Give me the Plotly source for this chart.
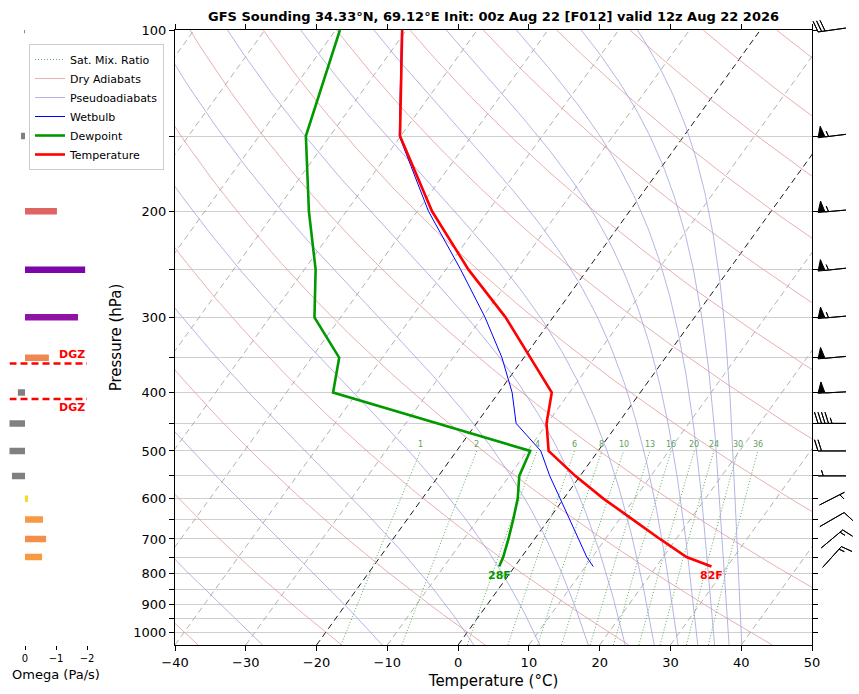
import numpy as np
import plotly.graph_objects as go

# sounding profile (34.33N 69.12E)
pres = [100, 150, 200, 250, 300, 350, 400, 450, 500, 550, 600, 650, 700, 750, 778]
temp = [-70.6, -60.1, -47.9, -36.8, -26.7, -19.1, -12.5, -10.1, -7.0, -0.7, 5.6, 11.9, 17.7, 23.3, 27.8]
dewpt = [-79.4, -73.4, -65.3, -58.4, -53.7, -46.1, -43.4, -25.6, -9.6, -8.6, -6.5, -5.0, -3.7, -2.6, -2.2]
wetbulb = [-70.7, -60.2, -48.4, -37.9, -29.6, -23.1, -18.1, -14.4, -8.1, -4.3, -0.5, 3.0, 6.2, 9.2, 11.1]

# omega (Pa/s) and winds on the standard levels
levels = [100, 150, 200, 250, 300, 350, 400, 450, 500, 550, 600, 650, 700, 750]
omega = [0.03, 0.13, -1.03, -1.94, -1.71, -0.77, 0.23, 0.55, 0.52, 0.42, -0.10, -0.58, -0.68, -0.55]
wind_dir = [262, 263, 265, 264, 265, 265, 267, 270, 270, 270, 63, 60, 50, 42]
wind_kt = [30, 55, 55, 55, 55, 50, 50, 45, 20, 5, 5, 10, 15, 15]

# background lines
mix_ratios = [1, 2, 4, 6, 8, 10, 13, 16, 20, 24, 30, 36]   # g/kg
dry_t0 = list(range(-40, 241, 20))                          # degC at 1000 hPa
moist_te = list(range(-30, 191, 20))                        # theta-e, degC
temp_ticks = list(range(-40, 51, 10))
pres_ticks = list(range(100, 1001, 50))
dgz_temps = [-12, -18]

W, H = 859, 694
AX_L, AX_R, AX_T, AX_B = 175, 812, 30, 645
P_BOT, P_TOP = 1050.0, 100.0
SKEW = 61.4  # degC shift per decade of pressure
PPD = (AX_B - AX_T) / np.log10(P_BOT / P_TOP)  # pixels per decade


def skx(t, p):
    return np.asarray(t, float) + SKEW * np.log10(P_BOT / np.asarray(p, float))


def joined(lines):
    xs, ys = [], []
    for x, y in lines:
        xs += list(x) + [None]
        ys += list(y) + [None]
    return xs, ys


def sat_vp(tc):
    return 6.112 * np.exp(17.67 * tc / (tc + 243.5))


def dewpoint_from_e(e):
    a = np.log(e / 6.112)
    return 243.5 * a / (17.67 - a)


def thetae_sat(p, tk):
    es = sat_vp(tk - 273.15)
    r = np.minimum(622.0 * es / np.maximum(p - es, 1e-3), 300.0)
    return (tk * (1000.0 / p) ** (0.2854 * (1 - 0.28e-3 * r))
            * np.exp((3.376 / tk - 0.00254) * r * (1 + 0.81e-3 * r)))


def minus(v):
    return str(v).replace('-', '\u2212')


fig = go.Figure()

# isotherms
pp = np.array([P_BOT, P_TOP])
iso_gray = [(skx(t, pp), pp) for t in range(-110, 51, 10) if t not in (0, -20)]
iso_black = [(skx(t, pp), pp) for t in (0, -20)]
x, y = joined(iso_gray)
fig.add_trace(go.Scatter(x=x, y=y, mode='lines', showlegend=False, hoverinfo='skip',
                         line=dict(color='#a8a8a8', width=0.9, dash='6px,4px')))
x, y = joined(iso_black)
fig.add_trace(go.Scatter(x=x, y=y, mode='lines', showlegend=False, hoverinfo='skip',
                         line=dict(color='black', width=0.9, dash='6px,4px')))

# saturation mixing ratio lines
pmix = np.geomspace(P_BOT, 500, 40)
mix_lines = []
for w in mix_ratios:
    td = dewpoint_from_e(w * pmix / (622.0 + w))
    mix_lines.append((skx(td, pmix), pmix))
x, y = joined(mix_lines)
fig.add_trace(go.Scatter(x=x, y=y, mode='lines', name='Sat. Mix. Ratio', hoverinfo='skip',
                         line=dict(color='#5eaa5e', width=1, dash='1px,2px')))

# dry adiabats
pd_ = np.geomspace(P_BOT, P_TOP, 80)
dry_lines = [(skx((t0 + 273.15) * (pd_ / 1000.0) ** 0.2857 - 273.15, pd_), pd_) for t0 in dry_t0]
x, y = joined(dry_lines)
fig.add_trace(go.Scatter(x=x, y=y, mode='lines', name='Dry Adiabats', hoverinfo='skip',
                         line=dict(color='#e29c9c', width=0.8)))

# pseudoadiabats (constant saturated theta-e)
pm = np.geomspace(P_BOT, P_TOP, 120)
moist_lines = []
for te in moist_te:
    target = te + 273.15
    lo = np.full_like(pm, 150.0)
    hi = np.full_like(pm, 330.0)
    for _ in range(50):
        mid = 0.5 * (lo + hi)
        above = thetae_sat(pm, mid) > target
        hi = np.where(above, mid, hi)
        lo = np.where(above, lo, mid)
    moist_lines.append((skx(0.5 * (lo + hi) - 273.15, pm), pm))
x, y = joined(moist_lines)
fig.add_trace(go.Scatter(x=x, y=y, mode='lines', name='Pseudoadiabats', hoverinfo='skip',
                         line=dict(color='#a2a2de', width=0.8)))

# profiles
fig.add_trace(go.Scatter(x=skx(wetbulb, pres), y=pres, mode='lines', name='Wetbulb',
                         line=dict(color='#0000ff', width=1)))
fig.add_trace(go.Scatter(x=skx(dewpt, pres), y=pres, mode='lines', name='Dewpoint',
                         line=dict(color='#009900', width=2.6)))
fig.add_trace(go.Scatter(x=skx(temp, pres), y=pres, mode='lines', name='Temperature',
                         line=dict(color='#ff0000', width=2.6)))

annotations = []
for w in mix_ratios:
    td = dewpoint_from_e(w * 500.0 / (622.0 + w))
    annotations.append(dict(x=float(skx(td, 500.0)), y=np.log10(500.0), xref='x', yref='y',
                            text=str(w), showarrow=False, yanchor='bottom',
                            font=dict(size=8, color='#62a062')))
sfc_x_t = float(skx(temp[-1], pres[-1]))
sfc_x_td = float(skx(dewpt[-1], pres[-1]))
annotations.append(dict(x=sfc_x_t, y=np.log10(pres[-1]), xref='x', yref='y', showarrow=False,
                        text='<b>%dF</b>' % round(temp[-1] * 9 / 5 + 32), yanchor='top',
                        font=dict(size=11, color='#ff0000')))
annotations.append(dict(x=sfc_x_td, y=np.log10(pres[-1]), xref='x', yref='y', showarrow=False,
                        text='<b>%dF</b>' % round(dewpt[-1] * 9 / 5 + 32), yanchor='top',
                        font=dict(size=11, color='#009900')))

# omega bars
OMEGA_STOPS = [(0.0, (245, 232, 40)), (0.5, (250, 160, 60)), (0.8, (238, 132, 82)),
               (1.05, (222, 98, 100)), (1.7, (146, 20, 165)), (2.0, (118, 0, 170))]


def omega_color(w):
    if w >= 0:
        return '#808080'
    m = min(-w, 2.0)
    for (a, ca), (b, cb) in zip(OMEGA_STOPS[:-1], OMEGA_STOPS[1:]):
        if a <= m <= b:
            f = (m - a) / (b - a)
            c = [round(ca[i] + f * (cb[i] - ca[i])) for i in range(3)]
            return 'rgb(%d,%d,%d)' % tuple(c)
    return 'rgb(118,0,170)'


for p, w in zip(levels, omega):
    fig.add_trace(go.Scatter(x=[0, w], y=[p, p], xaxis='x2', yaxis='y2', mode='lines',
                             showlegend=False, line=dict(color=omega_color(w), width=6.5)))

# dendritic growth zone from the temperature profile
lp = np.log(np.array(pres, float))
tt = np.array(temp, float)
dgz_p = []
for tc in dgz_temps:
    i = np.where((tt[:-1] - tc) * (tt[1:] - tc) <= 0)[0][0]
    f = (tc - tt[i]) / (tt[i + 1] - tt[i])
    dgz_p.append(float(np.exp(lp[i] + f * (lp[i + 1] - lp[i]))))
for p in dgz_p:
    fig.add_trace(go.Scatter(x=[0.5, -2.0], y=[p, p], xaxis='x2', yaxis='y2', mode='lines',
                             showlegend=False, line=dict(color='#ff0000', width=2.6, dash='7px,4px')))
p_hi, p_lo = min(dgz_p), max(dgz_p)
annotations.append(dict(x=-2.0, y=np.log10(p_hi), xref='x2', yref='y2', showarrow=False,
                        text='<b>DGZ</b>', xanchor='right', yanchor='bottom',
                        font=dict(size=11, color='#ff0000')))
annotations.append(dict(x=-2.0, y=np.log10(p_lo), xref='x2', yref='y2', showarrow=False,
                        text='<b>DGZ</b>', xanchor='right', yanchor='top',
                        font=dict(size=11, color='#ff0000')))


# wind barbs (matplotlib-style, pivot in the middle)
def barb_verts(spd, L=28.0):
    sp, fh, fw = 0.125 * L, 0.4 * L, 0.25 * L
    nflag = int(spd // 50)
    rem = spd - 50 * nflag
    nbarb = int(rem // 10)
    half = (rem - 10 * nbarb) >= 5
    endy = -L / 2
    v = [(0.0, endy)]
    off = L
    for _ in range(nflag):
        if off != L:
            off += sp / 2
        v += [(0.0, endy + off), (fh, endy - fw / 2 + off), (0.0, endy - fw + off)]
        off -= fw + sp
    for _ in range(nbarb):
        v += [(0.0, endy + off), (fh, endy + off + fw / 2), (0.0, endy + off)]
        off -= sp
    if half:
        if off == L:
            v.append((0.0, endy + off))
            off -= 1.5 * sp
        v += [(0.0, endy + off), (fh / 2, endy + off + fw / 4), (0.0, endy + off)]
    v.append(v[0])
    return np.array(v)


BARB_X = 20.0
bx, by = [], []
for p, d, s in zip(levels, wind_dir, wind_kt):
    u = -s * np.sin(np.radians(d))
    v = -s * np.cos(np.radians(d))
    a = np.arctan2(v, u) + np.pi / 2
    verts = barb_verts(s)
    xr = verts[:, 0] * np.cos(a) - verts[:, 1] * np.sin(a)
    yr = verts[:, 0] * np.sin(a) + verts[:, 1] * np.cos(a)
    bx += list(BARB_X + xr) + [None]
    by += list(p * 10 ** (-yr / PPD)) + [None]
fig.add_trace(go.Scatter(x=bx, y=by, xaxis='x3', yaxis='y3', mode='lines', fill='toself',
                         fillcolor='black', showlegend=False, hoverinfo='skip',
                         line=dict(color='black', width=1)))

ydom = [1 - AX_B / H, 1 - AX_T / H]
yrng = [np.log10(P_BOT), np.log10(P_TOP)]
barb_rng = [np.log10(P_BOT) + (H - AX_B) / PPD, np.log10(P_TOP) - AX_T / PPD]

fig.update_layout(
    width=W, height=H,
    margin=dict(l=0, r=0, t=0, b=0, pad=0, autoexpand=False),
    paper_bgcolor='white', plot_bgcolor='white',
    font=dict(family='DejaVu Sans', color='black'),
    title=dict(text='<b>GFS Sounding 34.33\u00b0N, 69.12\u00b0E Init: 00z Aug 22 [F012] valid 12z Aug 22 2026</b>',
               x=(AX_L + AX_R) / 2 / W, xanchor='center', y=1 - 16 / H, yanchor='middle',
               font=dict(size=13)),
    xaxis=dict(domain=[AX_L / W, AX_R / W], range=[-40, 50], anchor='y',
               tickvals=temp_ticks, ticktext=[minus(t) for t in temp_ticks],
               ticks='outside', ticklen=5, tickcolor='black', showline=True, linecolor='black',
               linewidth=1, mirror='ticks', showgrid=False, zeroline=False,
               tickfont=dict(size=13),
               title=dict(text='Temperature (\u00b0C)', font=dict(size=15), standoff=6)),
    yaxis=dict(domain=ydom, type='log', range=yrng, anchor='x',
               tickvals=pres_ticks, ticktext=[str(p) if p % 100 == 0 else '' for p in pres_ticks],
               ticks='outside', ticklen=5, tickcolor='black', showline=True, linecolor='black',
               linewidth=1, mirror='ticks', showgrid=True, gridcolor='#cfcfcf', gridwidth=1,
               zeroline=False, tickfont=dict(size=13),
               title=dict(text='Pressure (hPa)', font=dict(size=15), standoff=8)),
    xaxis2=dict(domain=[9.5 / W, 102.5 / W], range=[0.5, -2.5], anchor='y2',
                tickvals=[0, -1, -2], ticktext=['0', '\u22121', '\u22122'], ticks='outside',
                ticklen=4, tickcolor='black', showline=False, showgrid=False, zeroline=False,
                tickfont=dict(size=10),
                title=dict(text='Omega (Pa/s)', font=dict(size=13), standoff=6)),
    yaxis2=dict(domain=ydom, type='log', range=yrng, anchor='x2', visible=False),
    xaxis3=dict(domain=[AX_R / W, 1.0], range=[0, W - AX_R], anchor='y3', visible=False),
    yaxis3=dict(domain=[0, 1], type='log', range=barb_rng, anchor='x3', visible=False),
    legend=dict(x=29 / W, y=1 - 44 / H, xanchor='left', yanchor='top',
                bgcolor='rgba(255,255,255,0.85)', bordercolor='#cccccc', borderwidth=1,
                font=dict(size=11), itemwidth=30, tracegroupgap=0),
    annotations=annotations,
    showlegend=True,
)

# page body margin would shift the fixed-size figure by 8px
fig.write_html('out.html', config={'displayModeBar': False},
               post_script="document.body.style.margin='0px';")
